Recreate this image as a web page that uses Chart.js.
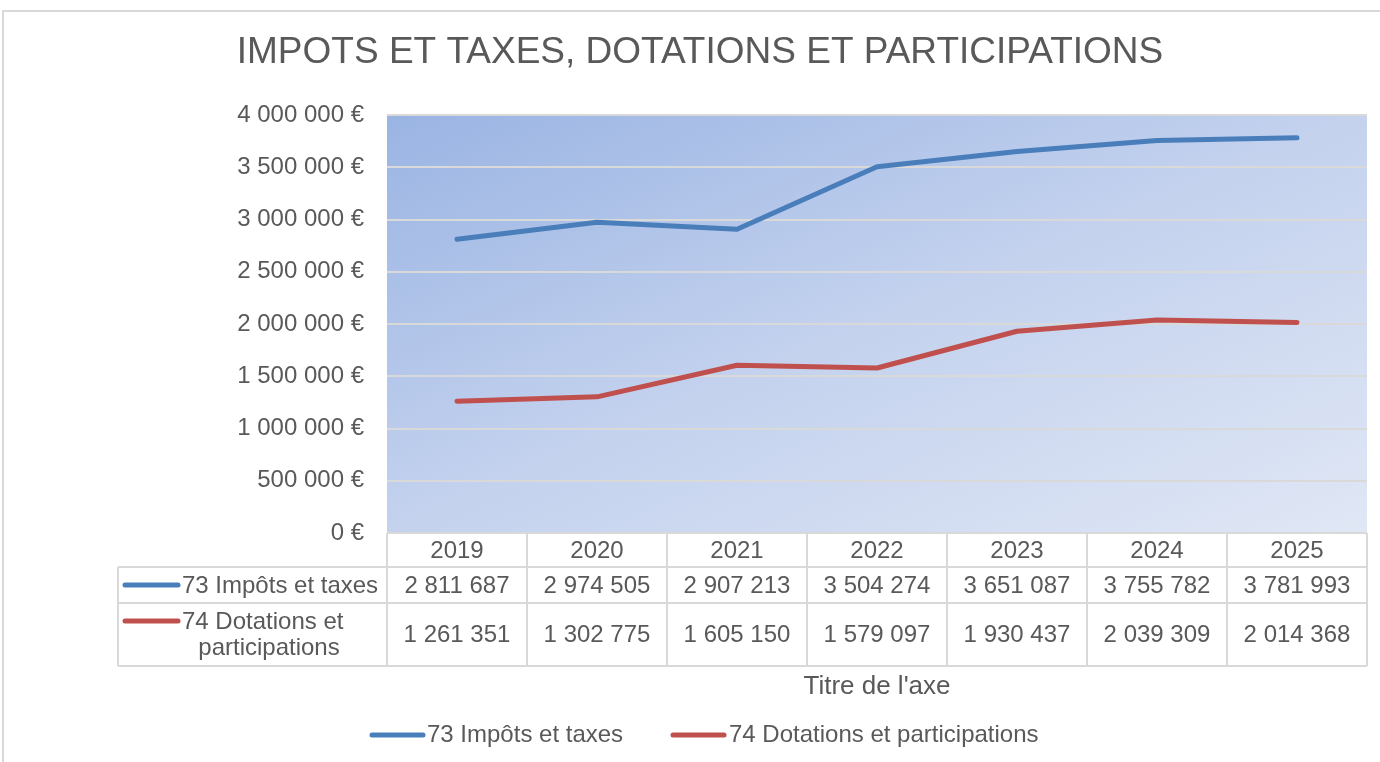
<!DOCTYPE html>
<html>
<head>
<meta charset="utf-8">
<script src="https://cdn.jsdelivr.net/npm/chart.js@4.4.1/dist/chart.umd.min.js"></script>
<style>
  body { margin: 0; background: #ffffff; }
  canvas { display: block; }
</style>
</head>
<body>
<canvas id="LineChart" width="1380" height="762"></canvas>
<script>
// chart values
const years = ["2019", "2020", "2021", "2022", "2023", "2024", "2025"];
const impots = [2811687, 2974505, 2907213, 3504274, 3651087, 3755782, 3781993];
const dotations = [1261351, 1302775, 1605150, 1579097, 1930437, 2039309, 2014368];
const seriesNames = ["73 Impôts et taxes", "74 Dotations et participations"];
const chartTitle = "IMPOTS ET TAXES, DOTATIONS ET PARTICIPATIONS";
const axisTitle = "Titre de l'axe";

const blue = "#4a7ebb", red = "#c0504d";
const textColor = "#595959", lineGrey = "#d9d9d9";
const fontName = "'Liberation Sans', Arial, sans-serif";

function spaced(n){
    return String(n).replace(/\B(?=(\d{3})+(?!\d))/g, " ");
}

// gradient behind the plot area (diagonal in the box's own proportions)
const plotBackground = {
    id: "plotBackground",
    beforeDraw(chart){
        var ctx = chart.ctx, a = chart.chartArea;
        ctx.save();
        ctx.translate(a.left, a.top);
        ctx.scale(a.right - a.left, a.bottom - a.top);
        var g = ctx.createLinearGradient(0, 0, 1, 1);
        g.addColorStop(0, "#9ab4e3");
        g.addColorStop(0.5, "#c4d2ee");
        g.addColorStop(1, "#e0e7f5");
        ctx.fillStyle = g;
        ctx.fillRect(0, 0, 1, 1);
        ctx.restore();
    }
};

// title, data table, axis title and legend
const extras = {
    id: "extras",
    afterDraw(chart){
        var ctx = chart.ctx, a = chart.chartArea, xs = chart.scales.x;
        var colW = (a.right - a.left) / years.length;
        ctx.save();

        // outer frame
        ctx.strokeStyle = lineGrey;
        ctx.lineWidth = 2;
        ctx.beginPath();
        ctx.moveTo(3, 762); ctx.lineTo(3, 11); ctx.lineTo(1380, 11);
        ctx.stroke();

        // title
        ctx.fillStyle = textColor;
        ctx.font = "37px " + fontName;
        ctx.textAlign = "center";
        ctx.textBaseline = "middle";
        ctx.fillText(chartTitle, 700, 53);

        // table grid
        var rowTop = a.bottom, row1 = a.bottom + 34, row2 = row1 + 36, rowEnd = 666;
        var tableLeft = 118;
        ctx.strokeStyle = lineGrey;
        ctx.lineWidth = 2;
        ctx.beginPath();
        [row1, row2, rowEnd].forEach(function(y){
            ctx.moveTo(tableLeft, y); ctx.lineTo(a.right, y);
        });
        for(let i = 0; i <= years.length; i++){
            var x = a.left + i * colW;
            ctx.moveTo(x, rowTop); ctx.lineTo(x, rowEnd);
        }
        ctx.moveTo(tableLeft, row1); ctx.lineTo(tableLeft, rowEnd);
        ctx.stroke();

        // table text
        ctx.font = "24px " + fontName;
        ctx.fillStyle = textColor;
        ctx.textAlign = "center";
        for(let i = 0; i < years.length; i++){
            var cx = xs.getPixelForValue(i);
            ctx.fillText(years[i], cx, (rowTop + row1) / 2 + 1);
            ctx.fillText(spaced(impots[i]), cx, (row1 + row2) / 2 + 1);
            ctx.fillText(spaced(dotations[i]), cx, (row2 + rowEnd) / 2 + 1);
        }

        // row labels with series keys
        ctx.lineCap = "round";
        ctx.lineWidth = 5;
        ctx.strokeStyle = blue;
        ctx.beginPath(); ctx.moveTo(125, 585); ctx.lineTo(178, 585); ctx.stroke();
        ctx.strokeStyle = red;
        ctx.beginPath(); ctx.moveTo(125, 621); ctx.lineTo(178, 621); ctx.stroke();
        ctx.textAlign = "left";
        ctx.fillText(seriesNames[0], 182, 586);
        ctx.fillText("74 Dotations et", 182, 622);
        ctx.textAlign = "center";
        ctx.fillText("participations", 269, 648);

        // legend
        ctx.strokeStyle = blue;
        ctx.beginPath(); ctx.moveTo(372, 735); ctx.lineTo(423, 735); ctx.stroke();
        ctx.strokeStyle = red;
        ctx.beginPath(); ctx.moveTo(673, 735); ctx.lineTo(724, 735); ctx.stroke();
        ctx.textAlign = "left";
        ctx.fillText(seriesNames[0], 427, 735);
        ctx.fillText(seriesNames[1], 729, 735);

        // axis title
        ctx.font = "26px " + fontName;
        ctx.textAlign = "center";
        ctx.fillText(axisTitle, (a.left + a.right) / 2, 687);

        ctx.restore();
    }
};

var config = {
    type: "line",
    data: {
        labels: years,
        datasets: [{
            label: seriesNames[0],
            data: impots,
            borderColor: blue,
            borderWidth: 5,
            pointRadius: 0,
            borderCapStyle: "round",
            borderJoinStyle: "round",
            tension: 0
        }, {
            label: seriesNames[1],
            data: dotations,
            borderColor: red,
            borderWidth: 5,
            pointRadius: 0,
            borderCapStyle: "round",
            borderJoinStyle: "round",
            tension: 0
        }]
    },
    options: {
        responsive: false,
        animation: false,
        layout: { padding: { left: 0, right: 13, top: 115, bottom: 229 } },
        plugins: {
            legend: { display: false },
            tooltip: { enabled: false }
        },
        scales: {
            x: {
                display: false,
                offset: true
            },
            y: {
                min: 0,
                max: 4000000,
                afterFit: function(scale){ scale.width = 387; },
                border: { display: false },
                grid: { color: lineGrey, lineWidth: 2, drawTicks: false },
                ticks: {
                    stepSize: 500000,
                    padding: 23,
                    color: textColor,
                    font: { family: fontName, size: 24 },
                    callback: function(v){ return spaced(v) + " €"; }
                }
            }
        }
    },
    plugins: [plotBackground, extras]
};

var lineChart = new Chart(document.getElementById("LineChart"), config);
</script>
</body>
</html>
